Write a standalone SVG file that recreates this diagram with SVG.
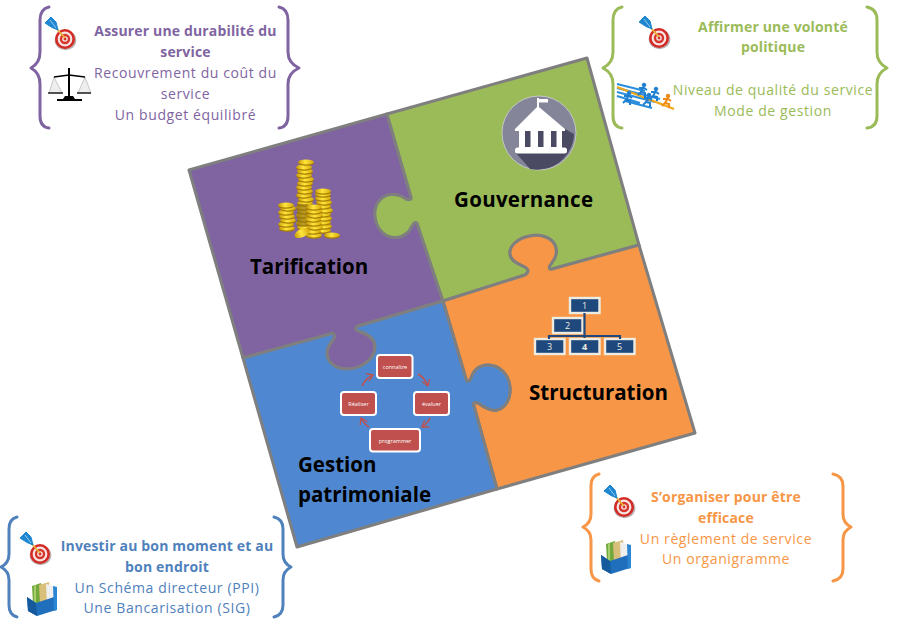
<svg xmlns="http://www.w3.org/2000/svg" width="900" height="629" viewBox="0 0 900 629">
<style>
text{font-family:"Open Sans","Liberation Sans",sans-serif;text-anchor:middle}
.piece{stroke:#7f7f7f;stroke-width:3;stroke-linejoin:round}
.brace{fill:none;stroke-width:3;stroke-linecap:round;stroke-linejoin:round}
.h{font-size:14px;font-weight:700;letter-spacing:.16px}
.t{font-size:14px;letter-spacing:.6px}
.lab{font-size:20.5px;font-weight:700;fill:#000;text-anchor:start}
.org{fill:#1f497d;stroke:#eeece1;stroke-width:2.4}
.orgt{font-size:9px;fill:#eeece1}
.cy{fill:#c0504d;stroke:#fff;stroke-width:2}
.cyt{font-size:5.500px;fill:#fff}
.ln{stroke:#1f497d;stroke-width:2.200;fill:none}
.arr{stroke:#c0504d;stroke-width:1.500;fill:none;marker-end:url(#op)}
</style>
<defs>
<marker id="op" markerWidth="10" markerHeight="10" refX="8" refY="5" orient="auto" markerUnits="userSpaceOnUse"><path d="M2,1L8,5L2,9" fill="none" stroke="#c0504d" stroke-width="1.300"/></marker>
<linearGradient id="gold" x1="0" x2="1" y1="0" y2="0"><stop offset="0" stop-color="#c79a08"/><stop offset=".45" stop-color="#ffe63c"/><stop offset="1" stop-color="#d4a80c"/></linearGradient>
<g id="coin"><ellipse cy="1.200" rx="7.800" ry="2.500" fill="#a67c00"/><ellipse rx="7.800" ry="2.400" fill="url(#gold)"/></g>
<g id="dart">
<ellipse cx="0.500" cy="1.200" rx="10.800" ry="10" fill="#b9b0b0"/>
<circle r="10" fill="#d42a26"/><circle r="7.400" fill="#f5e4e0"/><circle r="5.200" fill="#d8352f"/><circle r="2.800" fill="#f5e4e0"/><circle r="1.400" fill="#d42a26"/>
<path d="M-9,-11L0,-1" stroke="#e8b030" stroke-width="1.800"/>
<path d="M-20,-16L-14,-22L-9,-17L-7,-9L-13,-11.500Z" fill="#1f86d0" stroke="#1f86d0" stroke-linejoin="round"/>
<path d="M-15,-19L-9,-11" stroke="#8fcdf2" stroke-width="1"/>
</g>
<g id="box">
<path d="M5,3L14,0L15,20L6,20Z" fill="#72a83c"/><path d="M7,3L9,2L9,20L7,20Z" fill="#a7cf6b"/>
<path d="M12,2L22,-1L24,20L13,20Z" fill="#d9c07a"/>
<path d="M19,1L26,3L29,10L29,22L20,22Z" fill="#efefef"/>
<path d="M0,14L9,20L27,14L29,27L10,33L1,28Z" fill="#1f6fbd"/>
<path d="M26,3L30,4L30,27L27,28Z" fill="#2c86d3"/>
<path d="M9,20L10,33L1,28L0,14Z" fill="#155a9c"/>
</g>
<g id="runner"><circle cx="2" cy="-8" r="1.800"/><path d="M2,-6L-1,-1L-4,2M-1,-1L3,0L3,4M-3,-5L2,-5L5,-3" fill="none" stroke-width="2"/></g>
</defs>
<rect width="900" height="629" fill="#fff"/>

<g id="puzzle-tarification">
<path class="piece" fill="#8064a2" d="M189,170L387,114L411,197C412,200 409,200 406,199C396,192 385,194 380,200C372,208 374,224 382,232C390,240 402,239 409,231C412,226 414,221 417,223L443,301L358,326C354,328 356,331 361,332C370,335 375,340 375,347C375,360 360,369 347,369C335,369 327,362 327,353C327,346 332,342 334,338C335,334 333,332 330,334L243,358Z"/>
<g id="coins">
<use href="#coin" x="305" y="227"/><use href="#coin" x="304" y="223"/><use href="#coin" x="305" y="219"/><use href="#coin" x="304" y="215"/><use href="#coin" x="305" y="211"/><use href="#coin" x="304" y="207"/><use href="#coin" x="305" y="203"/><use href="#coin" x="306" y="199"/><use href="#coin" x="304" y="195"/><use href="#coin" x="305" y="191"/><use href="#coin" x="304" y="187"/><use href="#coin" x="305" y="183"/><use href="#coin" x="306" y="179"/><use href="#coin" x="304" y="175"/><use href="#coin" x="305" y="171"/><use href="#coin" x="304" y="167"/><use href="#coin" x="306" y="162"/>
<rect x="297" y="204" width="11" height="22" fill="#8a6a10" opacity=".6"/>
<use href="#coin" x="287" y="228"/><use href="#coin" x="286" y="224"/><use href="#coin" x="288" y="220"/><use href="#coin" x="287" y="216"/><use href="#coin" x="286" y="212"/><use href="#coin" x="288" y="208"/><use href="#coin" x="286" y="205"/>
<use href="#coin" x="323" y="230"/><use href="#coin" x="324" y="226"/><use href="#coin" x="323" y="222"/><use href="#coin" x="324" y="218"/><use href="#coin" x="323" y="214"/><use href="#coin" x="325" y="210"/><use href="#coin" x="323" y="206"/><use href="#coin" x="324" y="202"/><use href="#coin" x="323" y="198"/><use href="#coin" x="323" y="194"/><use href="#coin" x="323" y="191"/>
<use href="#coin" x="314" y="235"/><use href="#coin" x="313" y="231"/><use href="#coin" x="315" y="227"/><use href="#coin" x="314" y="223"/><use href="#coin" x="313" y="219"/><use href="#coin" x="315" y="215"/><use href="#coin" x="314" y="211"/><use href="#coin" x="314" y="207"/>
<ellipse cx="302" cy="233" rx="8" ry="4" fill="url(#gold)" transform="rotate(-25 302 233)"/>
<use href="#coin" x="332" y="235"/>
</g>
<text class="lab" x="250" y="274">Tarification</text>
</g>

<g id="puzzle-gouvernance">
<path class="piece" fill="#9bbb59" d="M387,114L587,58L639,245L552,269C548,270 549,266 551,264C556,258 558,252 555,245C551,237 540,234 530,236C518,238 509,246 510,254C511,262 520,264 525,267C530,270 528,273 525,275L443,301L417,223C414,221 412,226 409,231C402,239 390,240 382,232C374,224 372,208 380,200C385,194 396,192 406,199C409,200 412,200 411,197Z"/>
<g id="bank">
<circle cx="539" cy="133" r="37" fill="#85859a" stroke="#cfd0d8" stroke-width=".8"/>
<path d="M565,129L574,134A37,37 0 0 1 530,169L516,153Z" fill="#4a4a62"/>
<path d="M537,107V98H539V99H548V102.500H539V107L565,129V131H515V129Z" fill="#fff"/>
<rect x="519" y="131" width="43" height="17" fill="#fff"/>
<rect x="525" y="131" width="5.500" height="16" fill="#4a4a62"/><rect x="538" y="131" width="5.500" height="16" fill="#4a4a62"/><rect x="551" y="131" width="5.500" height="16" fill="#4a4a62"/>
<rect x="515" y="147.500" width="52" height="6" rx="2.500" fill="#fff"/>
</g>
<text class="lab" x="454" y="207" textLength="139">Gouvernance</text>
</g>

<g id="puzzle-structuration">
<path class="piece" fill="#f79646" d="M443,301L525,275C528,273 530,270 525,267C520,264 511,262 510,254C509,246 518,238 530,236C540,234 551,237 555,245C558,252 556,258 551,264C549,266 548,270 552,269L639,245L695,433L497,489L474,406C472,402 475,402 478,403C485,408 491,411 497,410C506,408 511,398 510,387C509,375 500,365 488,365C478,365 473,372 471,378C470,382 467,382 466,379Z"/>
<g id="orgchart">
<rect class="org" x="570" y="298" width="29.500" height="15"/><text class="orgt" x="584.500" y="309">1</text>
<rect class="org" x="553" y="318" width="29.500" height="15"/><text class="orgt" x="567.500" y="329">2</text>
<rect class="org" x="535" y="339" width="29.500" height="15"/><text class="orgt" x="549.500" y="350">3</text>
<rect class="org" x="570" y="339" width="29.500" height="15"/><text class="orgt" x="584.500" y="350" font-weight="700">4</text>
<rect class="org" x="605" y="339" width="29.500" height="15"/><text class="orgt" x="619.500" y="350">5</text>
</g>
<text class="lab" x="529" y="400">Structuration</text>
</g>

<g id="puzzle-gestion">
<path class="piece" fill="#4f88d0" d="M243,358L330,334C333,332 335,334 334,338C332,342 327,346 327,353C327,362 335,369 347,369C360,369 375,360 375,347C375,340 370,335 361,332C356,331 354,328 358,326L443,301L466,379C467,382 470,382 471,378C473,372 478,365 488,365C500,365 509,375 510,387C511,398 506,408 497,410C491,411 485,408 478,403C475,402 472,402 474,406L497,489L297,547Z"/>
<text class="lab" x="298" y="472">Gestion</text>
<text class="lab" x="298" y="502">patrimoniale</text>
</g>

<g id="connectors">
<path class="ln" d="M584.500,313V338M549,339V336H620V339"/>
<path class="arr" d="M418,374Q425,378 428,386"/>
<path class="arr" d="M430,418Q428,423 422,427"/>
<path class="arr" d="M369,427Q364,424 361,418"/>
<path class="arr" d="M362,386Q366,378 373,375"/>
</g>

<g id="cycle-connaitre"><rect class="cy" x="377" y="355" width="35.500" height="23" rx="3"/><text class="cyt" x="395" y="368.500">connaître</text></g>
<g id="cycle-evaluer"><rect class="cy" x="414" y="392" width="35" height="23" rx="3"/><text class="cyt" x="431.500" y="405.500">évaluer</text></g>
<g id="cycle-programmer"><rect class="cy" x="370" y="429" width="50" height="22.500" rx="3"/><text class="cyt" x="395" y="442.500">programmer</text></g>
<g id="cycle-realiser"><rect class="cy" x="341" y="392" width="35" height="23" rx="3"/><text class="cyt" x="358.500" y="405.500">Réaliser</text></g>

<g id="note-tarification" fill="#8064a2">
<path class="brace" stroke="#8064a2" d="M49,7Q40,9 40,20V52Q40,63 31,68Q40,73 40,84V116Q40,127 49,128"/>
<path class="brace" stroke="#8064a2" d="M279,7Q288,9 288,20V52Q288,63 299,68Q288,73 288,84V116Q288,127 279,128"/>
<use href="#dart" x="65" y="39"/>
<g id="scale">
<path d="M54,77L49,93H62ZM85,77L78,93H91Z" stroke="#aaa" stroke-width=".6" fill="#eee"/>
<path d="M69,68V98" stroke="#000" stroke-width="2"/><path d="M54,77L69,75L85,77" stroke="#000" stroke-width="1.300" fill="none"/>
<path d="M48,93H63" stroke="#222" stroke-width="1.500"/><path d="M77,93H91" stroke="#222" stroke-width="1.500"/>
<path d="M65,96H73L75,99H82V101H57V99H63Z" fill="#000"/>
</g>
<text class="h" x="185.500" y="36">Assurer une durabilité du</text>
<text class="h" x="185.500" y="57">service</text>
<text class="t" x="185.500" y="78">Recouvrement du coût du</text>
<text class="t" x="185.500" y="99">service</text>
<text class="t" x="185.500" y="120">Un budget équilibré</text>
</g>

<g id="note-gouvernance" fill="#9bbb59">
<path class="brace" stroke="#9bbb59" d="M622,7Q613,9 613,20V52Q613,63 603,68Q613,73 613,84V116Q613,127 622,128"/>
<path class="brace" stroke="#9bbb59" d="M867,7Q877,9 877,20V52Q877,63 887,68Q877,73 877,84V116Q877,127 867,128"/>
<use href="#dart" x="659" y="38"/>
<g id="runners">
<path d="M617,84L645,91M617,88L660,99M617,92L655,102M617,96L640,103M625,101L652,108" stroke="#2a8fdc" stroke-width="2.200"/>
<path d="M617,87L674,109" stroke="#f0a818" stroke-width="2.200"/>
<g fill="#1e7fd0" stroke="#1e7fd0"><use href="#runner" x="627" y="101"/><use href="#runner" x="642" y="93"/><use href="#runner" x="647" y="103"/><use href="#runner" x="654" y="97"/></g>
<g fill="#ee8a12" stroke="#ee8a12"><use href="#runner" x="666" y="104"/></g>
</g>
<text class="h" x="773" y="32">Affirmer une volonté</text>
<text class="h" x="773" y="52">politique</text>
<text class="t" x="773" y="95">Niveau de qualité du service</text>
<text class="t" x="773" y="116">Mode de gestion</text>
</g>

<g id="note-gestion" fill="#4f81bd">
<path class="brace" stroke="#4f81bd" d="M17,517Q9,519 9,529V554Q9,563 1,567Q9,571 9,580V605Q9,615 17,617"/>
<path class="brace" stroke="#4f81bd" d="M274,517Q283,519 283,529V554Q283,563 291,567Q283,571 283,580V605Q283,615 274,617"/>
<use href="#dart" x="40" y="554"/>
<use href="#box" x="27" y="583"/>
<text class="h" x="167" y="551">Investir au bon moment et au</text>
<text class="h" x="167" y="572">bon endroit</text>
<text class="t" x="167" y="593">Un Schéma directeur (PPI)</text>
<text class="t" x="167" y="613">Une Bancarisation (SIG)</text>
</g>

<g id="note-structuration" fill="#f79646">
<path class="brace" stroke="#f79646" d="M599,474Q591,476 591,486V514Q591,523 583,527Q591,531 591,540V569Q591,579 599,581"/>
<path class="brace" stroke="#f79646" d="M833,474Q843,476 843,486V514Q843,523 851,527Q843,531 843,540V569Q843,579 833,581"/>
<use href="#dart" x="624" y="507"/>
<use href="#box" x="601" y="541"/>
<text class="h" x="726" y="502">S’organiser pour être</text>
<text class="h" x="726" y="523">efficace</text>
<text class="t" x="726" y="544">Un règlement de service</text>
<text class="t" x="726" y="564">Un organigramme</text>
</g>
</svg>
